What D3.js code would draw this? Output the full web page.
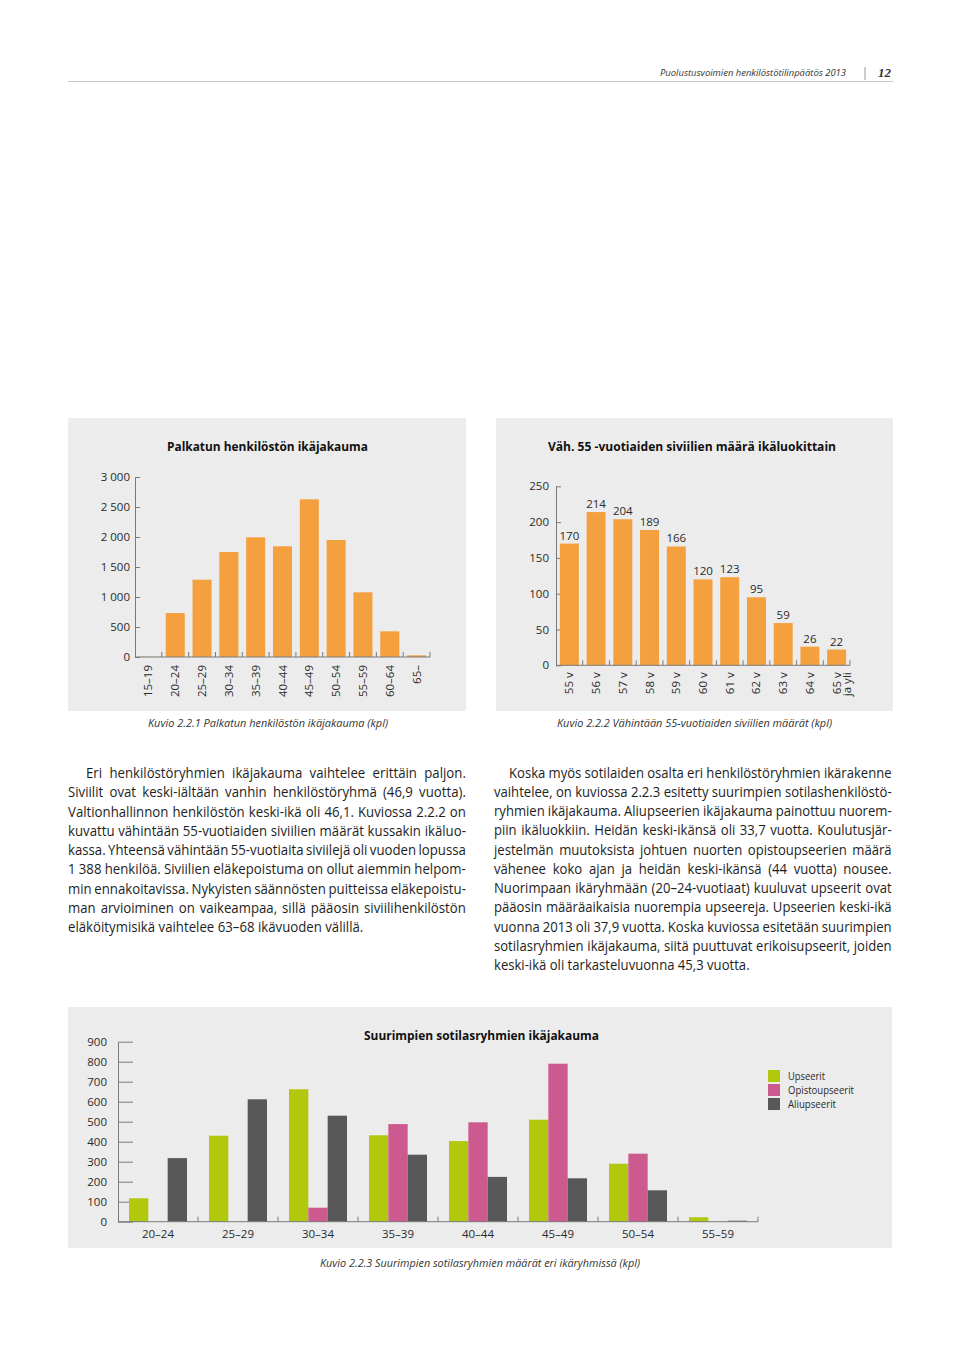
<!DOCTYPE html>
<html><head><meta charset="utf-8">
<script src="https://cdn.jsdelivr.net/npm/d3@7"></script>
<style>
body{margin:0;background:#fff;}
svg{display:block;font-family:"Open Sans",sans-serif;}
</style></head><body>
<svg id="page" width="960" height="1358"></svg>
<script>
// ---------- DATA ----------
const ageGroups = ["15–19","20–24","25–29","30–34","35–39","40–44","45–49","50–54","55–59","60–64","65–"];
const staffCounts = [4, 733, 1288, 1750, 1995, 1845, 2628, 1950, 1078, 428, 28];
const staffTicks = [0, 500, 1000, 1500, 2000, 2500, 3000];

const civilianAges = ["55 v","56 v","57 v","58 v","59 v","60 v","61 v","62 v","63 v","64 v","65 v\nja yli"];
const civilianCounts = [170, 214, 204, 189, 166, 120, 123, 95, 59, 26, 22];
const civilianTicks = [0, 50, 100, 150, 200, 250];

const militaryAgeGroups = ["20–24","25–29","30–34","35–39","40–44","45–49","50–54","55–59"];
const seriesNames = ["Upseerit","Opistoupseerit","Aliupseerit"];
const upseerit = [117, 430, 662, 432, 403, 510, 290, 22];
const opistoupseerit = [0, 0, 70, 488, 497, 790, 340, 0];
const aliupseerit = [318, 612, 530, 335, 224, 217, 157, 5];
const militaryTicks = [0, 100, 200, 300, 400, 500, 600, 700, 800, 900];

const leftText = [
 "Eri henkilöstöryhmien ikäjakauma vaihtelee erittäin paljon.",
 "Siviilit ovat keski-iältään vanhin henkilöstöryhmä (46,9 vuotta).",
 "Valtionhallinnon henkilöstön keski-ikä oli 46,1. Kuviossa 2.2.2 on",
 "kuvattu vähintään 55-vuotiaiden siviilien määrät kussakin ikäluo-",
 "kassa. Yhteensä vähintään 55-vuotiaita siviilejä oli vuoden lopussa",
 "1\u00A0388 henkilöä. Siviilien eläkepoistuma on ollut aiemmin helpom-",
 "min ennakoitavissa. Nykyisten säännösten puitteissa eläkepoistu-",
 "man arvioiminen on vaikeampaa, sillä pääosin siviilihenkilöstön",
 "eläköitymisikä vaihtelee 63–68 ikävuoden välillä."
];
const rightText = [
 "Koska myös sotilaiden osalta eri henkilöstöryhmien ikärakenne",
 "vaihtelee, on kuviossa 2.2.3 esitetty suurimpien sotilashenkilöstö-",
 "ryhmien ikäjakauma. Aliupseerien ikäjakauma painottuu nuorem-",
 "piin ikäluokkiin. Heidän keski-ikänsä oli 33,7 vuotta. Koulutusjär-",
 "jestelmän muutoksista johtuen nuorten opistoupseerien määrä",
 "vähenee koko ajan ja heidän keski-ikänsä (44 vuotta) nousee.",
 "Nuorimpaan ikäryhmään (20–24-vuotiaat) kuuluvat upseerit ovat",
 "pääosin määräaikaisia nuorempia upseereja. Upseerien keski-ikä",
 "vuonna 2013 oli 37,9 vuotta. Koska kuviossa esitetään suurimpien",
 "sotilasryhmien ikäjakauma, siitä puuttuvat erikoisupseerit, joiden",
 "keski-ikä oli tarkasteluvuonna 45,3 vuotta."
];

// ---------- STYLE ----------
const ORANGE = "#f4a03e";
const seriesColors = ["#b1c80f", "#cc5a8e", "#58585a"];
const PANEL = "#ececec";
const AXIS = "#7a7a7a";
const TXT = "#2a2a2a";

const svg = d3.select("#page");
const fmt = d => d3.format(",")(d).replace(/,/g, " ");
function fit(sel, w) { return sel.attr("textLength", w).attr("lengthAdjust", "spacingAndGlyphs"); }
function styleAxis(g, fs) {
  g.attr("font-family", null).attr("font-size", fs);
  g.select(".domain").attr("stroke", AXIS);
  g.selectAll(".tick line").attr("stroke", AXIS);
  g.selectAll(".tick text").attr("fill", TXT);
}

// ---------- HEADER ----------
fit(svg.append("text").attr("x", 660).attr("y", 76).attr("font-size", 9.5).attr("font-style", "italic")
  .attr("fill", "#333").text("Puolustusvoimien henkilöstötilinpäätös 2013"), 186);
svg.append("line").attr("x1", 865).attr("x2", 865).attr("y1", 67).attr("y2", 80).attr("stroke", "#999");
svg.append("text").attr("x", 878).attr("y", 77).attr("font-size", 13).attr("font-style", "italic")
  .attr("font-weight", "bold").attr("font-family", "Liberation Serif, serif").attr("fill", "#333").text("12");
svg.append("line").attr("x1", 68).attr("x2", 893).attr("y1", 81.5).attr("y2", 81.5).attr("stroke", "#c8c8c8");

// ---------- PANELS ----------
[[68, 418, 398, 293], [496, 418, 397, 293], [68, 1007, 824, 241]].forEach(p =>
  svg.append("rect").attr("x", p[0]).attr("y", p[1]).attr("width", p[2]).attr("height", p[3]).attr("fill", PANEL));

// ---------- SINGLE-SERIES BAR CHART ----------
function drawSingle(o) {
  const g = svg.append("g");
  const x = d3.scaleBand().domain(o.cats).range([o.x0, o.x1]).paddingInner(0.29).paddingOuter(0.145);
  const y = d3.scaleLinear().domain([0, o.max]).range([o.yBase, o.yTop]);
  g.append("g").attr("transform", `translate(${o.x0},0)`)
    .call(d3.axisLeft(y).tickValues(o.ticks).tickFormat(fmt).tickSizeInner(-5).tickSizeOuter(0).tickPadding(o.pad))
    .call(a => styleAxis(a, 11.5));
  g.selectAll("rect.bar").data(o.vals).join("rect").attr("class", "bar")
    .attr("x", (d, i) => x(o.cats[i])).attr("y", d => y(d))
    .attr("width", x.bandwidth()).attr("height", d => y(0) - y(d)).attr("fill", ORANGE);
  g.append("line").attr("x1", o.x0).attr("x2", o.x1).attr("y1", y(0)).attr("y2", y(0)).attr("stroke", AXIS);
  g.selectAll("line.bt").data(d3.range(1, o.cats.length + 1)).join("line").attr("class", "bt")
    .attr("x1", i => o.x0 + i * x.step()).attr("x2", i => o.x0 + i * x.step())
    .attr("y1", y(0)).attr("y2", y(0) - 5).attr("stroke", AXIS);
  g.selectAll("text.xl").data(o.cats).join("text").attr("class", "xl")
    .attr("transform", d => `translate(${x(d) + x.bandwidth() / 2},${y(0) + o.lOff}) rotate(-90)`)
    .attr("text-anchor", "end").attr("font-size", 11.5).attr("fill", TXT)
    .each(function (d) {
      const t = d3.select(this);
      d.split("\n").forEach((l, j) => t.append("tspan").attr("x", 0).attr("dy", j === 0 ? "0.35em" : "0.9em").text(l));
    });
  if (o.valueLabels) {
    g.selectAll("text.vl").data(o.vals).join("text").attr("class", "vl")
      .attr("x", (d, i) => x(o.cats[i]) + x.bandwidth() / 2).attr("y", d => y(d) - 4)
      .attr("text-anchor", "middle").attr("font-size", 11.5).attr("fill", TXT).text(d => d);
  }
  fit(g.append("text").attr("x", o.tx - o.tw / 2).attr("y", 451).attr("font-weight", "bold")
    .attr("font-size", 12.8).attr("fill", "#111").text(o.title), o.tw);
}

drawSingle({cats: ageGroups, vals: staffCounts, ticks: staffTicks, max: 3000,
  x0: 135, x1: 430, yBase: 657, yTop: 477, pad: 5, lOff: 8, valueLabels: false,
  title: "Palkatun henkilöstön ikäjakauma", tx: 267.5, tw: 201});
drawSingle({cats: civilianAges, vals: civilianCounts, ticks: civilianTicks, max: 250,
  x0: 556, x1: 850, yBase: 665.3, yTop: 486.3, pad: 7, lOff: 7, valueLabels: true,
  title: "Väh. 55 -vuotiaiden siviilien määrä ikäluokittain", tx: 692, tw: 288});

// ---------- CAPTIONS ----------
function caption(x, y, w, t) {
  fit(svg.append("text").attr("x", x).attr("y", y).attr("font-size", 11.5).attr("font-style", "italic")
    .attr("fill", "#333").text(t), w);
}
caption(148, 727, 240, "Kuvio 2.2.1 Palkatun henkilöstön ikäjakauma (kpl)");
caption(557, 727, 275, "Kuvio 2.2.2 Vähintään 55-vuotiaiden siviilien määrät (kpl)");
caption(320, 1267, 320, "Kuvio 2.2.3 Suurimpien sotilasryhmien määrät eri ikäryhmissä (kpl)");

// ---------- PARAGRAPHS ----------
function paragraph(lines, x0, x1, y0, lh, indent) {
  const fs = 14;
  const g = svg.append("g").attr("font-size", fs).attr("fill", "#1e1e1e");
  const widths = lines.map(t => {
    const n = g.append("text").text(t);
    const w = n.node().getComputedTextLength();
    n.remove();
    return w;
  });
  const avail = lines.map((t, i) => (x1 - x0) - (i === 0 ? indent : 0));
  const ratios = lines.slice(0, -1).map((t, i) => avail[i] / widths[i]);
  const s = Math.min(1, d3.quantile(ratios.slice().sort(d3.ascending), 0.35));
  lines.forEach((t, i) => {
    const last = i === lines.length - 1;
    const n = (t.match(/ /g) || []).length;
    let ws = last || n === 0 ? 0 : (avail[i] / s - widths[i]) / n;
    let sc = s;
    if (ws < -1.2) { // too long: compress this line a bit more
      ws = -1.2;
      sc = avail[i] / (widths[i] + ws * n);
    }
    g.append("text")
      .attr("transform", `translate(${x0 + (i === 0 ? indent : 0)},${y0 + i * lh}) scale(${sc},1)`)
      .attr("word-spacing", ws).text(t);
  });
}
paragraph(leftText, 68, 466, 778, 19.25, 18);
paragraph(rightText, 494, 892, 777.5, 19.25, 15);

// ---------- GROUPED BAR CHART ----------
(function () {
  const table = militaryAgeGroups.map((grp, i) => ({grp, values: [upseerit[i], opistoupseerit[i], aliupseerit[i]]}));
  const g = svg.append("g");
  const x0 = d3.scaleBand().domain(militaryAgeGroups).range([118, 758]).paddingInner(0.275).paddingOuter(0.1375);
  const x1 = d3.scaleBand().domain(seriesNames).range([0, x0.bandwidth()]);
  const y = d3.scaleLinear().domain([0, 900]).range([1221.7, 1041.7]);
  const color = d3.scaleOrdinal().domain(seriesNames).range(seriesColors);
  g.append("g").attr("transform", "translate(118,0)")
    .call(d3.axisLeft(y).tickValues(militaryTicks).tickFormat(fmt).tickSizeInner(-15).tickSizeOuter(0).tickPadding(11))
    .call(a => styleAxis(a, 11.5));
  g.selectAll("g.grp").data(table).join("g").attr("class", "grp")
    .attr("transform", d => `translate(${x0(d.grp)},0)`)
    .selectAll("rect").data(d => d.values.map((v, k) => ({key: seriesNames[k], v}))).join("rect")
    .attr("x", d => x1(d.key)).attr("y", d => y(d.v)).attr("width", x1.bandwidth())
    .attr("height", d => y(0) - y(d.v)).attr("fill", d => color(d.key));
  g.append("line").attr("x1", 118).attr("x2", 758).attr("y1", y(0)).attr("y2", y(0)).attr("stroke", AXIS);
  g.selectAll("line.bt").data(d3.range(1, militaryAgeGroups.length + 1)).join("line").attr("class", "bt")
    .attr("x1", i => 118 + i * x0.step()).attr("x2", i => 118 + i * x0.step())
    .attr("y1", y(0)).attr("y2", y(0) - 5).attr("stroke", AXIS);
  g.selectAll("text.xl").data(militaryAgeGroups).join("text").attr("class", "xl")
    .attr("x", d => x0(d) + x0.bandwidth() / 2).attr("y", 1238).attr("text-anchor", "middle")
    .attr("font-size", 11.5).attr("fill", TXT).text(d => d);
  fit(g.append("text").attr("x", 481.5 - 117.5).attr("y", 1040).attr("font-weight", "bold")
    .attr("font-size", 12.8).attr("fill", "#111").text("Suurimpien sotilasryhmien ikäjakauma"), 235);
  const legW = [37, 66, 48];
  const lg = g.selectAll("g.leg").data(seriesNames).join("g").attr("class", "leg")
    .attr("transform", (d, i) => `translate(768,${1070 + i * 14})`);
  lg.append("rect").attr("width", 12).attr("height", 12).attr("fill", d => color(d));
  lg.append("text").attr("x", 20).attr("y", 10).attr("font-size", 11.5).attr("fill", TXT)
    .each(function (d, i) { fit(d3.select(this).text(d), legW[i]); });
})();
</script>
</body></html>
